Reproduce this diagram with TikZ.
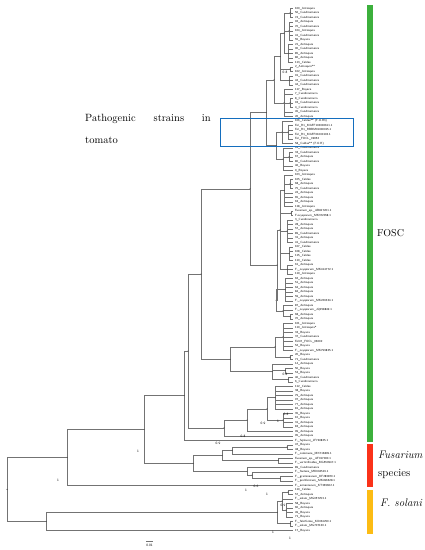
\documentclass[tikz,border=0pt]{standalone}
\usepackage{tikz}
\usetikzlibrary{calc}
\tikzset{
  branch/.style={draw=black!55, line width=0.45pt},
  leaf/.style={anchor=west, inner sep=1.8pt, font=\sffamily\fontsize{3}{3}\selectfont},
  support/.style={font=\sffamily\fontsize{3.4}{4}\selectfont, inner sep=0.5pt},
  bar/.style={line width=6pt},
  grouplab/.style={anchor=west, inner sep=0pt, font=\fontsize{11}{13}\selectfont},
}
\definecolor{foscgreen}{RGB}{60,176,60}
\definecolor{specred}{RGB}{250,50,25}
\definecolor{solyellow}{RGB}{252,188,20}
\definecolor{boxblue}{RGB}{20,110,190}
% internal node: name, x, first child, last child, all children
\newcommand{\clade}[5]{%
  \path let \p1=(#3), \p2=(#4) in coordinate (#1) at ({#2pt},{(\y1+\y2)/2});
  \foreach \k in {#5} \draw[branch] (#1) |- (\k);
  \fill (#1) circle (0.45pt);}

\begin{document}
\begin{tikzpicture}[x=1pt, y=-1pt]
  \useasboundingbox (0,0) rectangle (425,550);
  % leaves
  \foreach \lab [count=\i] in {100\_Antioquia,56\_Cundinamarca,74\_Cundinamarca,92\_Antioquia,70\_Cundinamarca,104\_Antioquia,41\_Cundinamarca,55\_Boyaca,21\_Antioquia,90\_Cundinamarca,85\_Antioquia,86\_Antioquia,113\_Caldas,2\_Antioquia**,102\_Antioquia,91\_Cundinamarca,42\_Cundinamarca,44\_Cundinamarca,117\_Boyaca,7\_Cundinamarca,8\_Cundinamarca,93\_Cundinamarca,4\_Cundinamarca,45\_Cundinamarca,26\_Antioquia,106\_Caldas** (F.O.R3),Fol\_R1\_MAFF103000611.1,Fol\_R1\_RBBM01000015.1,Fol\_R1\_MAFF01000103.1,Fol\_FOCL\_09052,58\_Caldas** (F.O.R),63\_Cundinamarca**,33\_Cundinamarca,67\_Antioquia,80\_Cundinamarca,46\_Boyaca,9\_Boyaca,103\_Antioquia,105\_Caldas,68\_Antioquia,75\_Cundinamarca,24\_Antioquia,65\_Antioquia,63\_Antioquia,118\_Antioquia,Fusarium\_sp.\_AB817201.1,F.oxysporum\_MK372058.1,3\_Cundinamarca,28\_Antioquia,57\_Antioquia,89\_Cundinamarca,31\_Antioquia,41\_Cundinamarca,107\_Caldas,108\_Caldas,115\_Caldas,110\_Caldas,61\_Antioquia,F.\_oxysporum\_MK414772.1,119\_Antioquia,62\_Antioquia,51\_Antioquia,64\_Antioquia,84\_Antioquia,59\_Antioquia,F.\_oxysporum\_MK226334.1,87\_Antioquia,F.\_oxysporum\_JQ258849.1,68\_Antioquia,70\_Antioquia,101\_Antioquia,110\_Antioquia*,33\_Boyaca,37\_Cundinamarca,Fol47\_FOCL\_06002,52\_Boyaca,F.\_oxysporum\_MK799835.1,20\_Boyaca,71\_Cundinamarca,14\_Antioquia,50\_Boyaca,53\_Boyaca,40\_Cundinamarca,6\_Cundinamarca,112\_Caldas,38\_Boyaca,79\_Antioquia,97\_Antioquia,77\_Antioquia,81\_Antioquia,35\_Boyaca,10\_Boyaca,31\_Antioquia,83\_Antioquia,99\_Antioquia,95\_Antioquia,F.\_fujikuroi\_JF740825.1,47\_Boyaca,48\_Boyaca,F.\_commune\_MK716809.1,Fusarium\_sp.\_AF017000.1,F.\_verticillioides\_MG550947.1,89\_Cundinamarca,F.\_foetens\_MK604519.1,F.\_graminearum\_KF283870.1,F.\_proliferatum\_MK496628.1,F.\_armeniacum\_KT365602.1,110\_Caldas,57\_Antioquia,F.\_solani\_MG057253.1,58\_Boyaca,60\_Antioquia,49\_Boyaca,71\_Boyaca,F.\_falciforme\_KX034250.1,F.\_solani\_MG707130.1,17\_Boyaca}
  {
    \coordinate (t\i) at (293, {8.3+4.5*(\i-1)});
    \node[leaf] (L\i) at (t\i) {\lab};
  }
  % FOSC, upper part
  \clade{c1}{290}{t1}{t3}{t1,t2,t3}
  \clade{c2}{289}{t4}{t8}{t4,t5,t6,t7,t8}
  \clade{c3}{288}{t9}{t13}{t9,t10,t11,t12,t13}
  \clade{c4}{284}{c1}{c3}{c1,c2,c3}
  \clade{c5}{290}{t14}{t15}{t14,t15}
  \clade{c6}{289}{t16}{t18}{t16,t17,t18}
  \clade{c7}{280}{c4}{c6}{c4,c5,c6}
  \clade{c8}{290}{t21}{t23}{t21,t22,t23}
  \clade{c9}{284}{t19}{t25}{t19,t20,c8,t24,t25}
  \clade{c10}{274}{c7}{c9}{c7,c9}
  \clade{c11}{288}{t27}{t30}{t27,t28,t29,t30}
  \clade{c12}{282}{t26}{t31}{t26,c11,t31}
  \clade{c13a}{289}{t33}{t35}{t33,t34,t35}
  \clade{c13}{283}{t32}{t37}{t32,c13a,t36,t37}
  \clade{c14}{276}{c12}{c13}{c12,c13}
  \clade{n266}{266}{c10}{c14}{c10,c14}
  % FOSC, middle part
  \clade{c15a}{290}{t39}{t41}{t39,t40,t41}
  \clade{c15}{284}{t38}{t45}{t38,c15a,t42,t43,t44,t45}
  \clade{c16}{291}{t46}{t47}{t46,t47}
  \clade{c17}{287}{t48}{t53}{t48,t49,t50,t51,t52,t53}
  \clade{c18}{289}{t54}{t57}{t54,t55,t56,t57}
  \clade{c19}{287}{t58}{t60}{t58,t59,t60}
  \clade{cA}{280}{c15}{c19}{c15,c16,c17,c18,c19}
  \clade{c27}{285}{t61}{t66}{t61,t62,t63,t64,t65,t66}
  \clade{c69}{290}{t69}{t70}{t69,t70}
  \clade{c28}{283}{t67}{c69}{t67,t68,c69}
  \clade{cB}{276}{c27}{c28}{c27,c28}
  \clade{n277}{277}{cA}{cB}{cA,cB}
  \clade{n250}{250}{n266}{n277}{n266,n277}
  \clade{ca}{283}{t71}{t77}{t71,t72,t73,t74,t75,t76,t77}
  \clade{cb}{290}{t78}{t79}{t78,t79}
  \clade{n275}{275}{ca}{cb}{ca,cb}
  \clade{c81}{285}{t81}{t82}{t81,t82}
  \clade{c83}{288}{t83}{t84}{t83,t84}
  \clade{n272}{272}{t80}{c83}{t80,c81,c83}
  \clade{n230}{230}{n275}{n272}{n275,n272}
  \clade{n201}{201}{n250}{n230}{n250,n230}
  % FOSC, lower part
  \clade{s1}{275}{t85}{t90}{t85,t86,t87,t88,t89,t90}
  \clade{s2}{283}{t91}{t94}{t91,t92,t93,t94}
  \clade{n267}{267}{s1}{s2}{s1,s2}
  \clade{n247b}{247}{n267}{t95}{n267,t95}
  \clade{n224}{224}{n247b}{t96}{n247b,t96}
  \clade{n188}{188}{n201}{n224}{n201,n224}
  \clade{n184}{184}{n188}{t97}{n188,t97}
  % Fusarium species
  \clade{r87}{287}{t98}{t99}{t98,t99}
  \clade{n232}{232}{r87}{t100}{r87,t100}
  \clade{r278}{278}{t101}{t102}{t101,t102}
  \clade{n222}{222}{n232}{r278}{n232,r278}
  \clade{r280}{280}{t105}{t106}{t105,t106}
  \clade{n252}{252}{t104}{r280}{t104,r280}
  \clade{n247}{247}{t103}{n252}{t103,n252}
  \clade{n193}{193}{n222}{n247}{n222,n247}
  \clade{n144}{144}{n184}{n193}{n184,n193}
  \clade{n67}{67}{n144}{t107}{n144,t107}
  % F. solani
  \clade{y288}{288}{t108}{t109}{t108,t109}
  \clade{y286}{286}{t111}{t114}{t111,t112,t113,t114}
  \clade{n282}{282}{y288}{y286}{y288,t110,y286}
  \clade{n290}{290}{t115}{t116}{t115,t116}
  \clade{n277y}{277}{n282}{n290}{n282,n290}
  \clade{n46}{46}{n277y}{t117}{n277y,t117}
  \clade{root}{7}{n67}{n46}{n67,n46}
  % support values
  \node[support] (v1) at (285,72) {0.8};
  \node[support] (v2) at (285,374) {0.8};
  \node[support] (v3) at (286,414) {0.8};
  \node[support] (v4) at (278,421) {1};
  \node[support] (v5) at (263,423) {0.9};
  \node[support] (v6) at (243,436) {0.8};
  \node[support] (v7) at (218,443) {0.9};
  \node[support] (v8) at (246,490) {1};
  \node[support] (v9) at (256,486) {0.6};
  \node[support] (v10) at (267,494) {1};
  \node[support] (v11) at (283,505) {0.9};
  \node[support] (v12) at (273,532) {1};
  \node[support] (v13) at (290,538) {1};
  \node[support] (v14) at (138,451) {1};
  \node[support] (v15) at (58,480) {1};
  % pathogenic strains
  \node[font=\fontsize{10.5}{12}\selectfont, anchor=base west, inner sep=0pt] (path) at (85,121) {Pathogenic\hspace{1.7em}strains\hspace{1.7em}in};
  \node[font=\fontsize{10.5}{12}\selectfont, anchor=base west, inner sep=0pt] (tom) at (85,143) {tomato};
  \draw[boxblue, line width=0.9pt] (220,118) rectangle (353,146);
  % groups
  \coordinate (g0) at (370,5);
  \coordinate (g1) at (370,442);
  \coordinate (g2) at (370,444);
  \coordinate (g3) at (370,487);
  \coordinate (g4) at (370,490);
  \coordinate (g5) at (370,534);
  \draw[bar, foscgreen] (g0) -- (g1);
  \draw[bar, specred] (g2) -- (g3);
  \draw[bar, solyellow] (g4) -- (g5);
  \node[grouplab, font=\fontsize{10}{12}\selectfont] (fosclab) at (377,233) {FOSC};
  \node[grouplab] (fuslab) at (378,455) {\textit{Fusarium}};
  \node[grouplab] (speclab) at (378,474) {species};
  \node[grouplab] (solab) at (380,503) {\textit{F. solani}};
  % scale bar
  \coordinate (sb1) at (146,541.5);
  \coordinate (sb2) at (153,541.5);
  \draw[branch] (sb1) -- (sb2);
  \node[support] (scale) at (149.5,545) {0.01};
\end{tikzpicture}
\end{document}
